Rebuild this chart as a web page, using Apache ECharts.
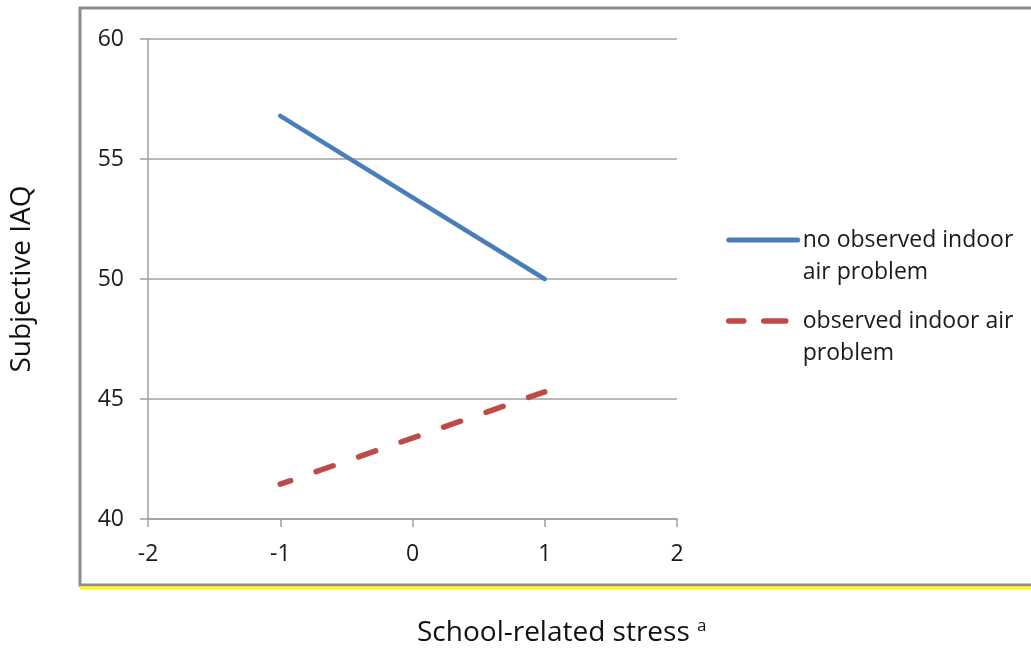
<!DOCTYPE html>
<html><head><meta charset="utf-8">
<script src="https://cdn.jsdelivr.net/npm/echarts@6/dist/echarts.min.js"></script>
<style>html,body{margin:0;padding:0;background:#fff}#c{width:1031px;height:648px}</style>
</head><body><div id="c"></div>
<script>
const xTicks = [-2, -1, 0, 1, 2];
const yTicks = [40, 45, 50, 55, 60];
const stressLevels = [-1, 1];
const noProblem = [56.8, 50.0];
const observedProblem = [41.45, 45.3];
const seriesNames = ['no observed indoor air problem', 'observed indoor air problem'];
const legendLines = {
  'no observed indoor air problem': ['no observed indoor', 'air problem'],
  'observed indoor air problem': ['observed indoor air', 'problem']
};
const xTitle = 'School-related stress';
const xTitleSup = 'a';
const yTitle = 'Subjective IAQ';

const FONT = '"Open Sans", sans-serif';
const BLUE = '#4a7ebb', RED = '#be4b48';
const chart = echarts.init(document.getElementById('c'), null, {renderer: 'canvas'});
const pair = (xs, ys) => xs.map((x, i) => [x, ys[i]]);
chart.setOption({
  animation: false,
  backgroundColor: '#ffffff',
  textStyle: {fontFamily: FONT},
  grid: {left: 148, top: 39, width: 529, height: 480, containLabel: false, outerBoundsMode: 'none'},
  xAxis: {
    type: 'value', min: xTicks[0], max: xTicks[xTicks.length - 1], interval: 1,
    axisLine: {show: true, onZero: false, lineStyle: {color: '#a0a0a0', width: 1.5}},
    axisTick: {show: true, length: 8, lineStyle: {color: '#a0a0a0', width: 1.5}},
    splitLine: {show: false},
    axisLabel: {margin: 24, fontSize: 23, color: '#1a1a1a', fontFamily: FONT}
  },
  yAxis: {
    type: 'value', min: yTicks[0], max: yTicks[yTicks.length - 1], interval: 5,
    name: yTitle, nameLocation: 'middle', nameRotate: 90, nameGap: 112,
    nameTextStyle: {fontSize: 28, color: '#111', fontFamily: FONT},
    axisLine: {show: true, onZero: false, lineStyle: {color: '#a0a0a0', width: 1.5}},
    axisTick: {show: true, length: 8, lineStyle: {color: '#a0a0a0', width: 1.5}},
    splitLine: {show: true, lineStyle: {color: '#a0a0a0', width: 1.5}},
    axisLabel: {margin: 24, fontSize: 23, color: '#1a1a1a', fontFamily: FONT}
  },
  legend: {
    orient: 'vertical', left: 726, top: 192, padding: 0, itemGap: -15,
    itemWidth: 69, itemHeight: 10,
    itemStyle: {opacity: 0},
    data: [
      {name: seriesNames[0], lineStyle: {color: BLUE, width: 5, type: 'solid', cap: 'round'}},
      {name: seriesNames[1], lineStyle: {color: RED, width: 5.5, type: [22, 20], cap: 'round'}}
    ],
    formatter: n => '\n' + legendLines[n].join('\n'),
    textStyle: {fontSize: 23, lineHeight: 32, color: '#1a1a1a', fontFamily: FONT}
  },
  title: {
    left: 417, top: 618, padding: 0,
    text: xTitle + ' {sup|' + xTitleSup + '}',
    textStyle: {
      fontSize: 28, fontWeight: 'normal', color: '#111', fontFamily: FONT,
      rich: {sup: {fontSize: 17, verticalAlign: 'top', padding: [0, 0, 14, 0], color: '#111', fontFamily: FONT}}
    }
  },
  graphic: [
    {type: 'rect', silent: true, z: -1, shape: {x: 80, y: 8, width: 1000, height: 577},
     style: {fill: null, stroke: '#8c8c8c', lineWidth: 3}},
    {type: 'line', silent: true, shape: {x1: 80, y1: 588, x2: 1031, y2: 588},
     style: {stroke: '#ffff00', lineWidth: 3}}
  ],
  series: [
    {name: seriesNames[0], type: 'line', data: pair(stressLevels, noProblem), symbol: 'none',
     lineStyle: {color: BLUE, width: 4.5, cap: 'round'}, itemStyle: {color: BLUE}},
    {name: seriesNames[1], type: 'line', data: pair(stressLevels, observedProblem), symbol: 'none',
     lineStyle: {color: RED, width: 5.5, type: [18, 27], dashOffset: 7, cap: 'round'}, itemStyle: {color: RED}}
  ]
});
</script></body></html>
